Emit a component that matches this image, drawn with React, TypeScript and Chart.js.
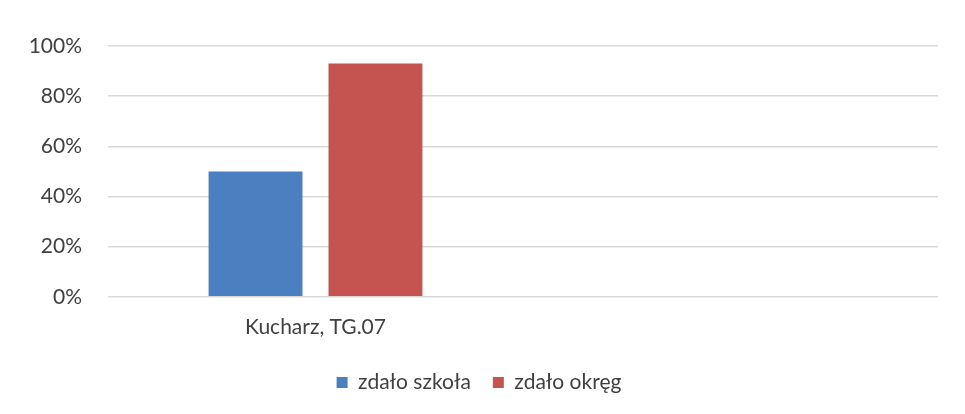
import React, { useEffect, useRef } from "react";
import { Chart, registerables } from "chart.js";

Chart.register(...registerables);

const categories = ["Kucharz, TG.07", ""];
const seriesNames = ["zdało szkoła", "zdało okręg"];
const schoolValues = [50, null];
const districtValues = [93, null];
const yTicks = [0, 20, 40, 60, 80, 100];

const FONT = "Lato, 'Open Sans', sans-serif";
const TEXT = "#404040";

export default function App() {
  const ref = useRef<HTMLCanvasElement | null>(null);

  useEffect(() => {
    document.body.style.margin = "0";
    const ctx = ref.current!;
    const chart = new Chart(ctx, {
      type: "bar",
      data: {
        labels: categories,
        datasets: [
          {
            label: seriesNames[0],
            data: schoolValues as any,
            backgroundColor: "#4A7FC0",
            categoryPercentage: 0.578,
            barPercentage: 0.783,
          },
          {
            label: seriesNames[1],
            data: districtValues as any,
            backgroundColor: "#C55450",
            categoryPercentage: 0.578,
            barPercentage: 0.783,
          },
        ],
      },
      options: {
        animation: false,
        responsive: false,
        maintainAspectRatio: false,
        layout: { padding: { left: 20, right: 27, top: 46, bottom: 11 } },
        plugins: {
          tooltip: { enabled: false },
          legend: {
            position: "bottom",
            labels: {
              boxWidth: 11,
              boxHeight: 11,
              padding: 22,
              color: TEXT,
              font: { family: FONT, size: 21 },
            },
          },
        },
        scales: {
          x: {
            grid: { display: false },
            border: { display: false },
            ticks: { color: TEXT, font: { family: FONT, size: 21 }, padding: 10 },
          },
          y: {
            min: 0,
            max: 100,
            afterBuildTicks: (s: any) => {
              s.ticks = yTicks.map((v) => ({ value: v }));
            },
            afterFit: (s: any) => {
              s.width = 88;
            },
            grid: { color: "#D9D9D9", drawTicks: false, lineWidth: 1.5 },
            border: { display: false },
            ticks: {
              color: TEXT,
              padding: 26,
              font: { family: FONT, size: 21 },
              callback: (v: any) => v + "%",
            },
          },
        },
      },
    });
    return () => chart.destroy();
  }, []);

  return (
    <div style={{ position: "absolute", left: 0, top: 0, width: 965, height: 414, background: "#fff" }}>
      <canvas ref={ref} width={965} height={414} />
    </div>
  );
}
